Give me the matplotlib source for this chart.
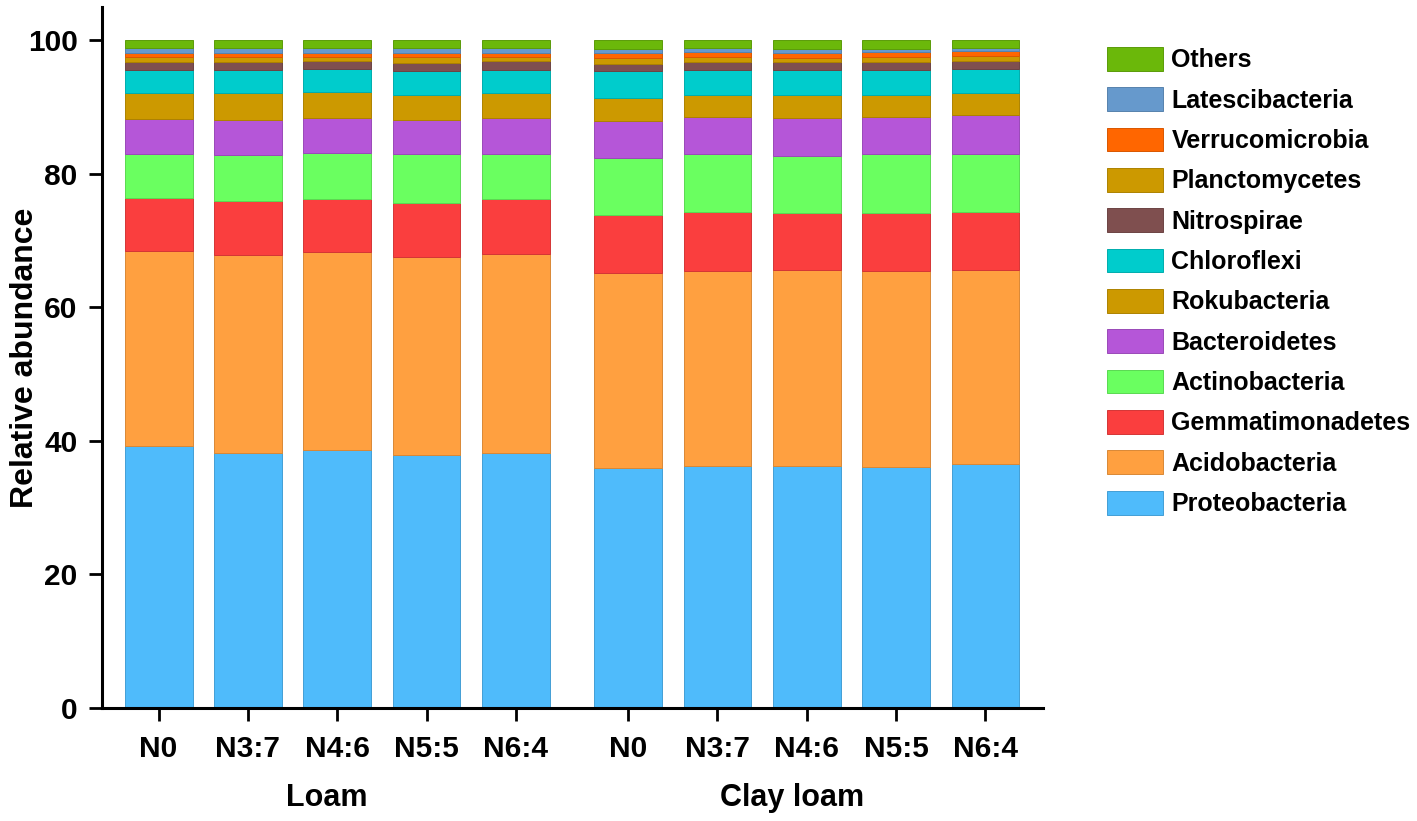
import matplotlib
matplotlib.use("Agg")
import matplotlib.pyplot as plt
import matplotlib.colors as mcolors
import matplotlib.transforms as mtransforms
import numpy as np

plt.rcParams['font.family'] = ['Liberation Sans', 'DejaVu Sans']
plt.rcParams['font.weight'] = 'bold'

samples = ["N0", "N3:7", "N4:6", "N5:5", "N6:4", "N0", "N3:7", "N4:6", "N5:5", "N6:4"]
groups = ["Loam", "Clay loam"]

phyla = ["Proteobacteria", "Acidobacteria", "Gemmatimonadetes", "Actinobacteria",
         "Bacteroidetes", "Rokubacteria", "Chloroflexi", "Nitrospirae",
         "Planctomycetes", "Verrucomicrobia", "Latescibacteria", "Others"]

Proteobacteria   = [39.3, 38.2, 38.7, 37.9, 38.2, 36.0, 36.3, 36.3, 36.1, 36.6]
Acidobacteria    = [29.1, 29.7, 29.6, 29.6, 29.8, 29.1, 29.1, 29.3, 29.3, 29.0]
Gemmatimonadetes = [8.0, 8.0, 8.0, 8.1, 8.3, 8.7, 8.9, 8.5, 8.8, 8.7]
Actinobacteria   = [6.6, 6.9, 6.8, 7.3, 6.7, 8.6, 8.7, 8.6, 8.8, 8.6]
Bacteroidetes    = [5.2, 5.3, 5.3, 5.2, 5.3, 5.5, 5.5, 5.7, 5.5, 5.9]
Rokubacteria     = [3.9, 4.0, 3.8, 3.7, 3.8, 3.5, 3.3, 3.45, 3.35, 3.3]
Chloroflexi      = [3.45, 3.5, 3.45, 3.6, 3.45, 3.95, 3.75, 3.7, 3.7, 3.6]
Nitrospirae      = [1.25, 1.2, 1.2, 1.2, 1.3, 1.15, 1.15, 1.2, 1.2, 1.2]
Planctomycetes   = [0.75, 0.75, 0.7, 0.95, 0.7, 0.8, 0.8, 0.65, 0.7, 0.8]
Verrucomicrobia  = [0.6, 0.6, 0.6, 0.6, 0.6, 0.75, 0.75, 0.75, 0.75, 0.65]
Latescibacteria  = [0.65, 0.65, 0.65, 0.65, 0.65, 0.6, 0.55, 0.55, 0.55, 0.55]
Others           = [1.2, 1.2, 1.2, 1.25, 1.2, 1.35, 1.2, 1.3, 1.3, 1.1]

values = [Proteobacteria, Acidobacteria, Gemmatimonadetes, Actinobacteria,
          Bacteroidetes, Rokubacteria, Chloroflexi, Nitrospirae,
          Planctomycetes, Verrucomicrobia, Latescibacteria, Others]

colors = ["#4FBBFB", "#FFA040", "#FA3E3E", "#6AFF60", "#B556D8", "#CC9900",
          "#00CCCC", "#7F4F4F", "#CC9900", "#FF6600", "#6699CC", "#6BB80A"]

def darker(c, f=0.85):
    r, g, b = mcolors.to_rgb(c)
    return (r * f, g * f, b * f)

fig = plt.figure(figsize=(14.17, 8.21), dpi=100)
ax = fig.add_axes([0.072, 0.1376, 0.664, 0.854])

group_gap = 1.257
pos = np.array([0, 1, 2, 3, 4, 4 + group_gap, 5 + group_gap, 6 + group_gap,
                7 + group_gap, 8 + group_gap])
width = 0.76

bottom = np.zeros(len(samples))
handles = []
for name, vals, col in zip(phyla, values, colors):
    vals = np.array(vals)
    h = ax.bar(pos, vals, width, bottom=bottom, color=col,
               edgecolor=darker(col), linewidth=0.7, label=name)
    handles.append(h)
    bottom += vals

ax.set_xlim(-0.633, 9.90)
ax.set_ylim(0, 105)
ax.set_yticks([0, 20, 40, 60, 80, 100])
ax.set_xticks(pos)
ax.set_xticklabels(samples)
for s in ["top", "right"]:
    ax.spines[s].set_visible(False)
for s in ["left", "bottom"]:
    ax.spines[s].set_linewidth(2.2)
ax.tick_params(axis='both', direction='out', length=9.5, width=2.0,
               labelsize=21.5)
ax.tick_params(axis='y', pad=8)
ax.tick_params(axis='x', pad=10)
for lab in ax.get_xticklabels() + ax.get_yticklabels():
    lab.set_fontweight('bold')

ax.set_ylabel("Relative abundance", fontsize=23, fontweight='bold')
ax.yaxis.set_label_coords(-0.066, 0.5)

# group labels
trans = mtransforms.blended_transform_factory(ax.transData, ax.transAxes)
ax.text(pos[:5].mean() - 0.12, -0.128, groups[0], transform=trans,
        ha='center', va='center', fontsize=22, fontweight='bold')
ax.text(pos[5:].mean() - 0.16, -0.128, groups[1], transform=trans,
        ha='center', va='center', fontsize=22, fontweight='bold')

leg = fig.legend(handles[::-1], phyla[::-1], loc='upper left',
                 bbox_to_anchor=(1107 / 1417, (821 - 47) / 821),
                 frameon=False, fontsize=18, handlelength=2.24,
                 handleheight=1.08, labelspacing=0.6, handletextpad=0.34,
                 borderpad=0, borderaxespad=0)
for t in leg.get_texts():
    t.set_fontweight('bold')

fig.savefig("out.png", dpi=100)
